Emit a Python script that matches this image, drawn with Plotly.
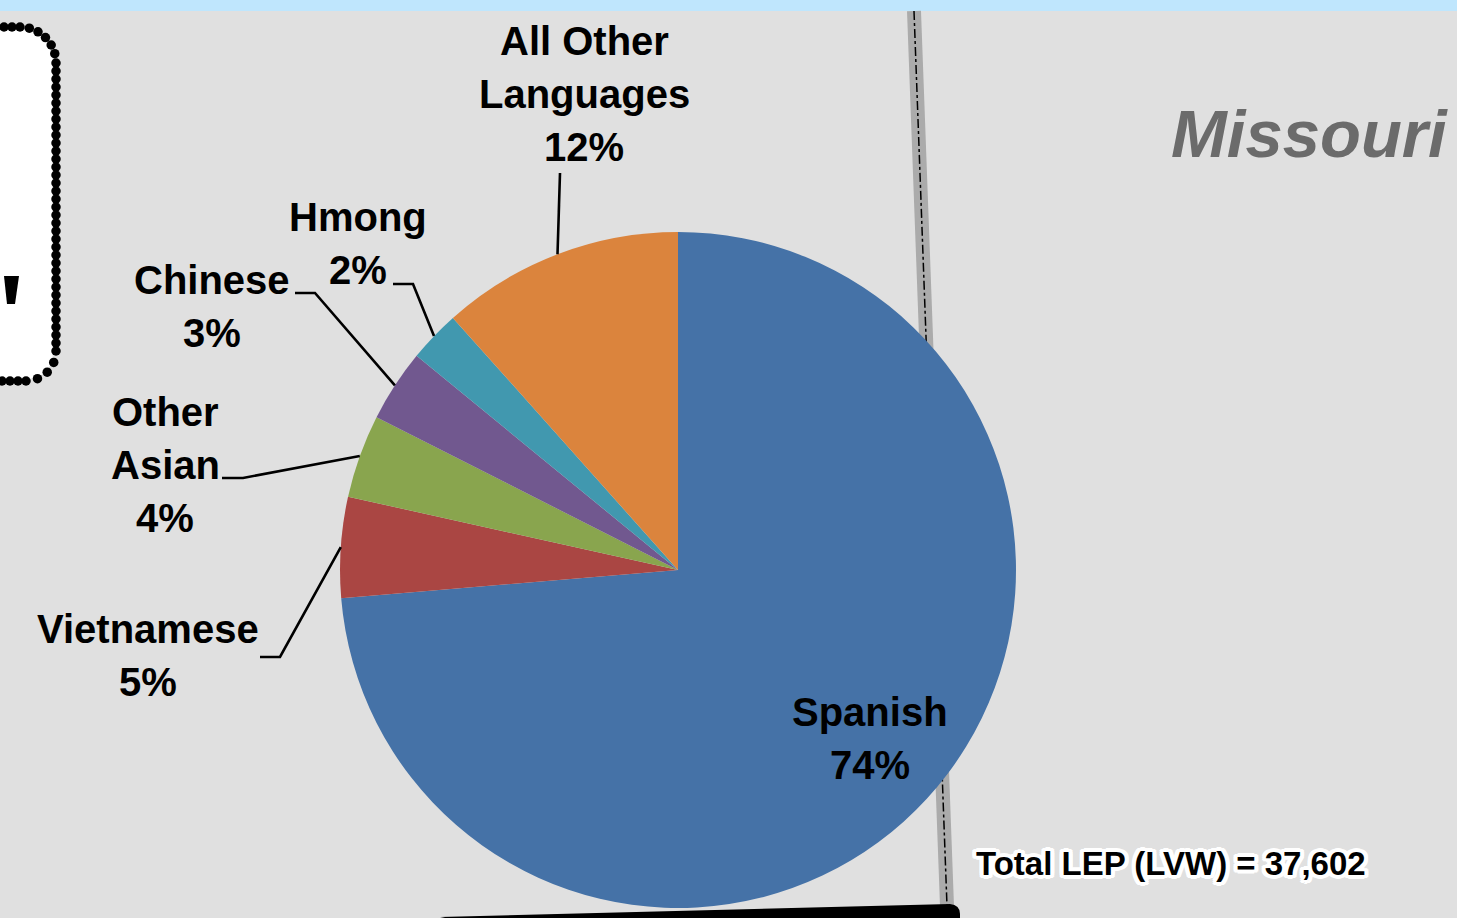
import numpy as np
import plotly.graph_objects as go

# ---------------- data ----------------
languages = ["Spanish", "Vietnamese", "Other Asian", "Chinese", "Hmong", "All Other Languages"]
speakers = [27700, 1810, 1500, 1300, 930, 4362]
label_lines = [["Spanish"], ["Vietnamese"], ["Other", "Asian"], ["Chinese"], ["Hmong"], ["All Other", "Languages"]]
total_lep = 37602
region_name = "Missouri"

# ---------------- styles / layout ----------------
colors = ["#4572A7", "#AA4643", "#89A54E", "#71588F", "#4198AF", "#DB843D"]
W, H = 1457, 918
CX, CY, R = 678, 570, 338          # pie centre / radius in pixels
# label block anchor (centre x, first-line middle y) and leader elbows
label_pos = [(870, 712), (148, 629), (165, 412), (212, 280), (358, 217), (584, 41)]
elbows = [None, [(260, 657), (280, 657)], [(222, 478), (243, 478)],
          [(295, 293), (315, 293)], [(393, 284), (413, 284)], [(560, 173)]]
LINE_GAP = 53
label_font = dict(family="Liberation Sans, Arial, sans-serif", size=40, color="black", weight="bold")

fig = go.Figure()

# border dots of the rounded box on the left (decoration)
def rounded_rect_points(x0, y0, x1, y1, r_tr, r_br, step):
    pts = []
    for x in np.arange(x0, x1 - r_tr, step):
        pts.append((x, y0))
    for a in np.linspace(-np.pi / 2, 0, max(int(np.pi / 2 * r_tr / step), 2)):
        pts.append((x1 - r_tr + r_tr * np.cos(a), y0 + r_tr + r_tr * np.sin(a)))
    for y in np.arange(y0 + r_tr + step, y1 - r_br, step):
        pts.append((x1, y))
    for a in np.linspace(0, np.pi / 2, max(int(np.pi / 2 * r_br / step), 2)):
        pts.append((x1 - r_br + r_br * np.cos(a), y1 - r_br + r_br * np.sin(a)))
    for x in np.arange(x1 - r_br - step, x0, -step):
        pts.append((x, y1))
    return np.array(pts)

dots = rounded_rect_points(-20, 27, 56, 381, 36, 30, 8)
fig.add_trace(go.Scatter(x=dots[:, 0], y=dots[:, 1], mode="markers",
                         marker=dict(size=9.5, color="black"), hoverinfo="skip",
                         showlegend=False, xaxis="x", yaxis="y"))

fig.add_trace(go.Pie(
    labels=languages, values=speakers, sort=False, direction="clockwise", rotation=0,
    marker=dict(colors=colors, line=dict(width=0)), textinfo="none", hoverinfo="label+percent",
    showlegend=False,
    domain=dict(x=[(CX - R) / W, (CX + R) / W], y=[1 - (CY + R) / H, 1 - (CY - R) / H]),
))

shapes = []
# top light-blue strip
shapes.append(dict(type="rect", x0=0, x1=W, y0=0, y1=11, fillcolor="#bfe6fd", line=dict(width=0), layer="below"))
# state border (grey band + dash-dot line)
shapes.append(dict(type="line", x0=914, y0=11, x1=947, y1=906, line=dict(color="#ababab", width=14), layer="below"))
shapes.append(dict(type="line", x0=914, y0=11, x1=947, y1=906, line=dict(color="black", width=1.5, dash="dashdot"), layer="below"))
# white rounded box on the left
shapes.append(dict(type="path",
                   path="M -20 30 L 18 30 Q 53 30 53 65 L 53 350 Q 53 379 24 379 L -20 379 Z",
                   fillcolor="white", line=dict(width=0), layer="below"))
shapes.append(dict(type="path", path="M 4 276 L 19 276 L 15 304 L 7 304 Z",
                   fillcolor="black", line=dict(width=0), layer="above"))
# black bar at the bottom
shapes.append(dict(type="path", path="M 445 918 L 440 917 L 950 904 Q 960 905 960 914 L 960 918 Z",
                   fillcolor="black", line=dict(width=0), layer="above"))

# leader lines computed from slice mid angles
total = sum(speakers)
cum = 0.0
annotations = []
for i, v in enumerate(speakers):
    frac_mid = (cum + v / 2) / total
    cum += v
    th = 2 * np.pi * frac_mid
    ex, ey = CX + R * np.sin(th), CY - R * np.cos(th)
    if elbows[i] is not None:
        pts = elbows[i] + [(ex, ey)]
        path = "M " + " L ".join(f"{px:.1f} {py:.1f}" for px, py in pts)
        shapes.append(dict(type="path", path=path, line=dict(color="black", width=2.6), layer="above"))
    pct = f"{round(100 * v / total)}%"
    lines = label_lines[i] + [pct]
    lx, ly = label_pos[i]
    for k, t in enumerate(lines):
        annotations.append(dict(x=lx, y=ly + k * LINE_GAP, xref="x", yref="y", text=t, showarrow=False,
                                xanchor="center", yanchor="middle", font=label_font))

annotations.append(dict(x=1309, y=133, xref="x", yref="y", text=f"<i>{region_name}</i>", showarrow=False,
                        xanchor="center", yanchor="middle",
                        font=dict(family="Liberation Sans, Arial, sans-serif", size=67, color="#6b6b6b",
                                  weight="bold", style="italic")))
outline = ", ".join(f"white {dx}px {dy}px 0px" for dx, dy in
                    [(4, 0), (-4, 0), (0, 4), (0, -4), (3, 3), (-3, -3), (3, -3), (-3, 3),
                     (2, 0), (-2, 0), (0, 2), (0, -2), (4, 2), (-4, 2), (4, -2), (-4, -2)])
annotations.append(dict(x=1171, y=863, xref="x", yref="y", text=f"Total LEP (LVW) = {total_lep:,}",
                        showarrow=False, xanchor="center", yanchor="middle",
                        font=dict(family="Liberation Sans, Arial, sans-serif",
                                  size=33, color="black", weight="bold", shadow=outline)))

fig.update_layout(
    width=W, height=H, margin=dict(l=0, r=0, t=0, b=0),
    paper_bgcolor="#e0e0e0", plot_bgcolor="rgba(0,0,0,0)",
    xaxis=dict(range=[0, W], visible=False, fixedrange=True, domain=[0, 1]),
    yaxis=dict(range=[H, 0], visible=False, fixedrange=True, domain=[0, 1]),
    shapes=shapes, annotations=annotations, showlegend=False,
)
fig.write_html("out.html")
